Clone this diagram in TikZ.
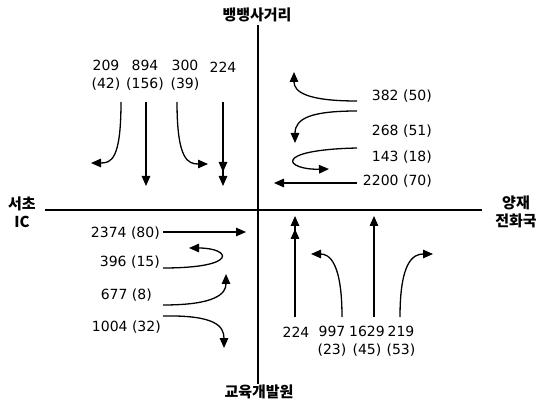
\documentclass[tikz,border=0pt]{standalone}
\usepackage{fontspec}
\setmainfont{DejaVu Sans}
\newfontfamily\krfont{Noto Sans CJK KR}
\usetikzlibrary{arrows.meta,positioning}
\tikzset{
    % Road axes
    roadline/.style={
        line width=2.4pt,
        draw=black
    },
    % Turning movement arrow
    flowarrow/.style={
        -{Triangle[length=10pt,width=8.5pt]},
        line width=1.3pt,
        draw=black
    },
    % Traffic volume label
    volnode/.style={
        inner sep=0pt,
        align=center,
        font=\fontsize{14}{17.5}\selectfont
    },
    % Place name
    placenode/.style={
        inner sep=0pt,
        align=center,
        font=\krfont\bfseries\fontsize{15}{18}\selectfont
    }
}
\begin{document}
\begin{tikzpicture}[x=1pt,y=-1pt]
    \useasboundingbox (0,0) rectangle (538,403);

    % place names
    \node[placenode] (north) at (257,15) {뱅뱅사거리};
    \node[placenode] (south) at (259,392) {교육개발원};
    \node[placenode] (west) at (22,212) {서초\\IC};
    \node[placenode] (east) at (516,212) {양재\\전화국};

    % roads
    \coordinate (rn) at (258,25);
    \coordinate (rs) at (258,384);
    \coordinate (rw) at (45,210);
    \coordinate (re) at (482,210);
    \draw[roadline] (rn) -- (rs);
    \draw[roadline] (rw) -- (re);

    % volumes, north approach
    \node[volnode] (n209) at (106,75) {209\\(42)};
    \node[volnode] (n894) at (145,75) {894\\(156)};
    \node[volnode] (n300) at (185,75) {300\\(39)};
    \node[volnode] (n224) at (223,67) {224};
    % volumes, east approach
    \node[volnode, anchor=east] (e382) at (432,96) {382 (50)};
    \node[volnode, anchor=east] (e268) at (432,131) {268 (51)};
    \node[volnode, anchor=east] (e143) at (432,157) {143 (18)};
    \node[volnode, anchor=east] (e2200) at (432,181) {2200 (70)};
    % volumes, west approach
    \node[volnode, anchor=east] (w2374) at (160,233) {2374 (80)};
    \node[volnode, anchor=east] (w396) at (160,262) {396 (15)};
    \node[volnode, anchor=east] (w677) at (152,295) {677 (8)};
    \node[volnode, anchor=east] (w1004) at (161,327) {1004 (32)};
    % volumes, south approach
    \node[volnode] (s224) at (296,332) {224};
    \node[volnode] (s997) at (332,341) {997\\(23)};
    \node[volnode] (s1629) at (367,341) {1629\\(45)};
    \node[volnode] (s219) at (401,341) {219\\(53)};

    % arrow ends
    \coordinate (n209a) at (121,102);  \coordinate (n209b) at (91,163);
    \coordinate (n894a) at (146,102);  \coordinate (n894b) at (146,186);
    \coordinate (n300a) at (177,102);  \coordinate (n300b) at (208,164);
    \coordinate (n224a) at (223,102);  \coordinate (n224b) at (223,186);
    \coordinate (n224m) at (223,172);
    \coordinate (e382a) at (357,101);  \coordinate (e382b) at (294,72);
    \coordinate (e268a) at (357,111);  \coordinate (e268b) at (295,143);
    \coordinate (e143a) at (357,148);  \coordinate (e143b) at (329,169);
    \coordinate (e2200a) at (357,183); \coordinate (e2200b) at (274,183);
    \coordinate (w2374a) at (163,232); \coordinate (w2374b) at (246,232);
    \coordinate (w396a) at (163,268);  \coordinate (w396b) at (189,248);
    \coordinate (w677a) at (163,305);  \coordinate (w677b) at (226,274);
    \coordinate (w1004a) at (163,316); \coordinate (w1004b) at (224,348);
    \coordinate (s224a) at (295,317);  \coordinate (s224b) at (295,216);
    \coordinate (s224m) at (295,229);
    \coordinate (s997a) at (342,317);  \coordinate (s997b) at (311,254);
    \coordinate (s1629a) at (374,317); \coordinate (s1629b) at (374,216);
    \coordinate (s219a) at (400,317);  \coordinate (s219b) at (433,254);

    % turning movements
    \draw[flowarrow] (n209a) .. controls +(0,58) and +(20,0) .. (n209b);
    \draw[flowarrow] (n894a) -- (n894b);
    \draw[flowarrow] (n300a) .. controls +(0,58) and +(-20,0) .. (n300b);
    \draw[flowarrow] (n224a) -- (n224b);
    \draw[flowarrow] (n224a) -- (n224m);

    \draw[flowarrow] (e382a) .. controls +(-50,0) and +(0,20) .. (e382b);
    \draw[flowarrow] (e268a) .. controls +(-45,0) and +(0,-25) .. (e268b);
    \draw[flowarrow] (e143a) .. controls +(-87,2) and +(-43,1) .. (e143b);
    \draw[flowarrow] (e2200a) -- (e2200b);

    \draw[flowarrow] (w2374a) -- (w2374b);
    \draw[flowarrow] (w396a) .. controls +(77,0) and +(42,0) .. (w396b);
    \draw[flowarrow] (w677a) .. controls +(52,0) and +(0,20) .. (w677b);
    \draw[flowarrow] (w1004a) .. controls +(52,-1) and +(0,-22) .. (w1004b);

    \draw[flowarrow] (s224a) -- (s224b);
    \draw[flowarrow] (s224a) -- (s224m);
    \draw[flowarrow] (s997a) .. controls +(0,-55) and +(18,0) .. (s997b);
    \draw[flowarrow] (s1629a) -- (s1629b);
    \draw[flowarrow] (s219a) .. controls +(0,-55) and +(-20,0) .. (s219b);
\end{tikzpicture}
\end{document}
